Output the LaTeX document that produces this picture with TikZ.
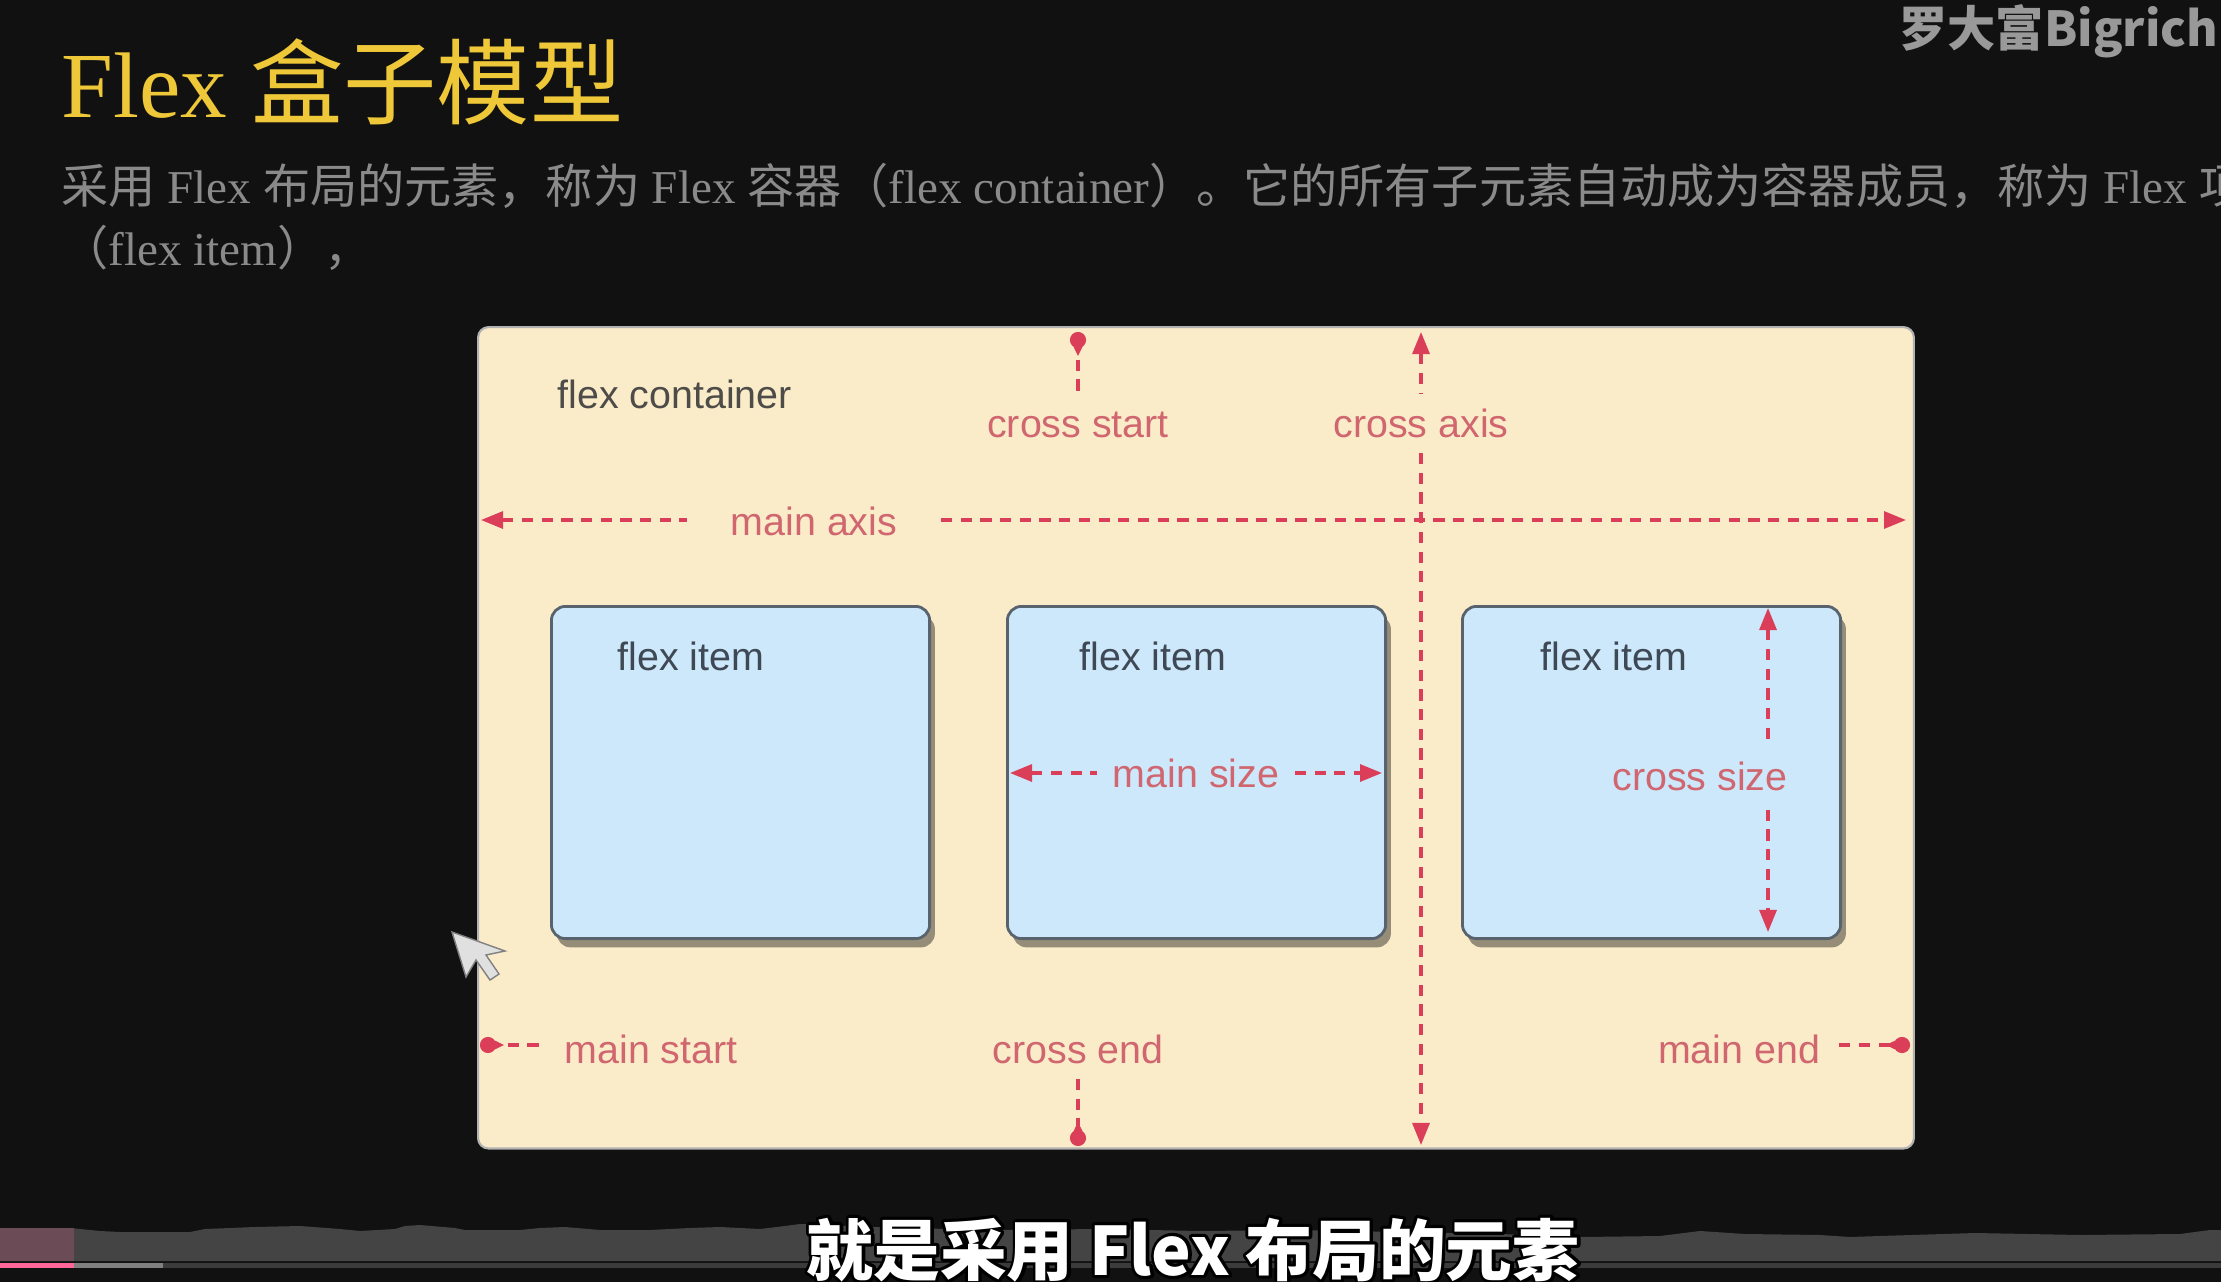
\documentclass[tikz,border=0pt]{standalone}
\usepackage{fontspec}
\setmainfont{Liberation Serif}
\newfontfamily\cjk{Noto Sans CJK SC}
\newfontfamily\hel{Liberation Sans}
\usetikzlibrary{calc,arrows.meta,shadows}

\definecolor{fondo}{HTML}{111111}
\definecolor{crema}{HTML}{FBECC9}
\definecolor{celeste}{HTML}{CDE8FB}
\definecolor{borde}{HTML}{59636E}
\definecolor{rojo}{HTML}{DA3E58}
\definecolor{rosa}{HTML}{D0666F}
\definecolor{oro}{HTML}{EEC838}
\definecolor{gris}{HTML}{8A8A8A}
\definecolor{tinta}{HTML}{4D4C48}
\definecolor{pizarra}{HTML}{3E4955}
\definecolor{onda}{HTML}{444444}
\definecolor{ondarosa}{HTML}{6B4B56}
\definecolor{barrarosa}{HTML}{FF6699}

\begin{document}
\begin{tikzpicture}[x=0.01cm,y=-0.01cm,line width=0.9pt,>={Triangle[length=2.2mm,width=1.7mm]},
  eje/.style={rojo,line width=0.9pt,dash pattern=on 3.2pt off 2.4pt},
  etiq/.style={rosa,font=\hel\fontsize{11.2}{13}\selectfont,inner sep=0pt},
  caja/.style={draw=borde,fill=celeste,line width=0.8pt,rounded corners=4pt,
    minimum width=3.78cm,minimum height=3.32cm,anchor=north west,inner sep=0pt,
    drop shadow={shadow xshift=1.5pt,shadow yshift=-2.5pt,fill=black,opacity=0.4}},
  item/.style={pizarra,font=\hel\fontsize{11.2}{13}\selectfont,inner sep=0pt,anchor=base west},
  subtexto/.style={anchor=base,inner sep=0pt,font=\cjk\bfseries\fontsize{19}{22}\selectfont}]
  % fondo
  \fill[fondo] (0,0) rectangle (2221,1282);
  \useasboundingbox (0,0) rectangle (2221,1282);

  % titulo, texto y marca
  \node[oro,anchor=base west,inner sep=0pt,font=\fontsize{26.5}{30}\selectfont] (titulo) at (60,118) {Flex {\cjk 盒子模型}};
  \node[gris,anchor=base west,inner sep=0pt,font=\fontsize{13.4}{17}\selectfont] (linea1) at (60,204)
    {{\cjk 采用} Flex {\cjk 布局的元素，称为} Flex {\cjk 容器（}flex container{\cjk ）。它的所有子元素自动成为容器成员，称为} Flex {\cjk 项}};
  \node[gris,anchor=base west,inner sep=0pt,font=\fontsize{13.4}{17}\selectfont] (linea2) at (60,265) {{\cjk （}flex item{\cjk ），}};
  \node[black!40!white,anchor=base west,inner sep=0pt,font=\cjk\bfseries\fontsize{13.7}{16}\selectfont] (marca) at (1898,47) {罗大富Bigrich};

  % contenedor
  \node[draw=black!30,fill=crema,rounded corners=3pt,minimum width=14.35cm,minimum height=8.21cm,
    anchor=north west,inner sep=0pt,line width=0.6pt] (cont) at (477,326) {};
  \node[tinta,anchor=base west,inner sep=0pt,font=\hel\fontsize{11.2}{13}\selectfont] (ncont) at (556,408) {flex container};

  % eje principal
  \coordinate (ma0) at (481,520); \coordinate (ma1) at (1906,520);
  \node[etiq,inner xsep=12pt] (maxis) at (814,521) {main axis};
  \draw[eje,<-] (ma0) -- (ma0 -| maxis.west);
  \draw[eje,->] (ma0 -| maxis.east) -- (ma1);

  % eje cruzado
  \coordinate (ca0) at (1421,332); \coordinate (ca1) at (1421,1145);
  \node[etiq,inner ysep=4pt,anchor=base] (caxis) at (1421,437) {cross axis};
  \draw[eje,<-] (ca0) -- (ca0 |- caxis.north);
  \draw[eje,->] (ca0 |- caxis.south) -- (ca1);

  % cross start
  \coordinate (csd) at (1078,340);
  \node[etiq,inner ysep=4pt,anchor=base] (cstart) at (1078,437) {cross start};
  \draw[eje] (csd) -- (csd |- cstart.north);

  % items
  \foreach \i/\x/\d in {1/550/66,2/1006/72,3/1461/78}{
    \node[caja] (it\i) at (\x,605) {};
    \node[item] (nit\i) at ($(it\i.north west)+(\d,65)$) {flex item};
  }

  % main size
  \coordinate (ms0) at (1010,773); \coordinate (ms1) at (1382,773);
  \node[etiq,anchor=base,inner xsep=4pt] (msize) at (1196,787) {main size};
  \draw[eje,<-] (ms0) -- (ms0 -| msize.west);
  \draw[eje,->] (ms0 -| msize.east) -- (ms1);

  % cross size
  \coordinate (cz0) at (1768,608); \coordinate (cz1) at (1768,932);
  \node[etiq,anchor=base,inner ysep=5pt] (csize) at (1700,790) {cross size};
  \draw[eje,<-] (cz0) -- (cz0 |- csize.north);
  \draw[eje,->] (cz0 |- csize.south) -- (cz1);

  % abajo: main start, cross end, main end
  \coordinate (msd) at (488,1045);
  \node[etiq,anchor=base,inner xsep=5pt] (mstart) at (651,1063) {main start};
  \draw[eje] (msd) -- (msd -| mstart.west);
  \coordinate (ced) at (1078,1138);
  \node[etiq,anchor=base,inner ysep=4pt] (cend) at (1078,1063) {cross end};
  \draw[eje] (cend.south) -- (ced);
  \coordinate (med) at (1902,1045);
  \node[etiq,anchor=base,inner xsep=5pt] (mend) at (1739,1063) {main end};
  \draw[eje] (med -| mend.east) -- (med);

  % puntos en gota
  \foreach \p/\ang in {csd/90,ced/270,msd/0,med/180}
    \fill[rojo] (\p) circle[radius=2.3pt] ($(\p)+(\ang+60:7)$) -- ($(\p)+(\ang:16)$) -- ($(\p)+(\ang-60:7)$) -- cycle;

  % cursor
  \filldraw[fill=white!88!black,draw=black!50,line width=0.4pt]
    (452,932) -- (466,977) -- (476,960) -- (490,980) -- (499,974) -- (486,955) -- (505,951) -- cycle;

  % barra del video
  \fill[onda] (0,1261) -- (0,1229) -- (70,1228) -- (100,1231) -- (120,1232) -- (190,1232) -- (205,1229)
    -- (255,1227) -- (300,1226) -- (340,1229) -- (360,1231) -- (395,1229) -- (405,1226) -- (420,1225)
    -- (455,1228) -- (465,1230) -- (520,1230) -- (540,1228) -- (565,1227) -- (600,1230) -- (650,1230)
    -- (690,1228) -- (720,1227) -- (760,1229) -- (785,1226) -- (800,1224) -- (900,1228) -- (1000,1230)
    -- (1100,1229) -- (1200,1231) -- (1300,1230) -- (1400,1232) -- (1500,1234) -- (1583,1237)
    -- (1660,1236) -- (1700,1231) -- (1745,1234) -- (1820,1235) -- (1850,1237) -- (1880,1236)
    -- (1975,1233) -- (2080,1235) -- (2180,1234) -- (2210,1230) -- (2221,1230) -- (2221,1261) -- cycle;
  \fill[ondarosa] (0,1228) rectangle (74,1261);
  \fill[barrarosa] (0,1263) rectangle (74,1268);
  \fill[black!50] (74,1263) rectangle (163,1268);
  \fill[black!77] (163,1263) rectangle (2221,1268);

  % subtitulo: contorno negro debajo, relleno blanco encima
  \node[subtexto,text=black] (subtc) at (1193,1275)
    {\special{pdf:literal direct 1 j 1.8 w 0 0 0 RG 1 Tr}就是采用 Flex 布局的元素\special{pdf:literal direct 0 Tr}};
  \node[subtexto,text=white] (subt) at (subtc.base) {就是采用 Flex 布局的元素};
\end{tikzpicture}
\end{document}
